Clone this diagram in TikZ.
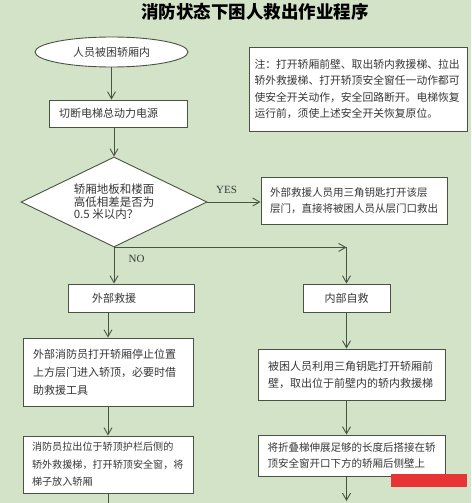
\documentclass[tikz,border=0pt]{standalone}
\usepackage{fontspec}
\setmainfont{Liberation Serif}
\newfontfamily\cjk{Noto Sans CJK SC}
\usepackage{tikz}
\usetikzlibrary{arrows.meta, shapes.geometric, calc}
\definecolor{notebg}{RGB}{211, 227, 200}
\definecolor{noteline}{RGB}{72, 84, 66}
\definecolor{notetext}{RGB}{55, 55, 55}
\definecolor{notered}{RGB}{232, 52, 52}

\begin{document}
\begin{tikzpicture}[x=1pt, y=-1pt,
        procbox/.style={draw=noteline, fill=white, line width=0.9pt, align=left, text=notetext,
            font=\cjk\fontsize{11}{17}\selectfont, inner xsep=10pt, inner ysep=0pt},
        flow/.style={draw=noteline, line width=0.9pt, -{Straight Barb[length=7pt, width=8pt]}},
        lbl/.style={font=\fontsize{11}{13}\selectfont, text=notetext}]
            \fill[notebg] (0,0) rectangle (471,503);
            \useasboundingbox (0,0) rectangle (471,503);

            \node[text=black, font=\cjk\bfseries\fontsize{17.5}{20}\selectfont] (title) at (255,12) {消防状态下困人救出作业程序};

            \node[ellipse, draw=noteline, fill=white, line width=0.9pt, minimum width=153pt, minimum height=30pt,
                inner sep=0pt, text=notetext, font=\cjk\fontsize{11}{13}\selectfont] (start) at (111.5,52) {人员被困轿厢内};
            \node[procbox, text width=118pt, minimum height=27pt] (cut) at (118,113.5) {切断电梯总动力电源};
            \node[procbox, text width=207pt, inner xsep=5.5pt, minimum height=84pt, font=\cjk\fontsize{10.8}{16.5}\selectfont] (note) at (358,89)
                {注：打开轿厢前壁、取出轿内救援梯、拉出\\轿外救援梯、打开轿顶安全窗任一动作都可\\使安全开关动作，安全回路断开。电梯恢复\\运行前，须使上述安全开关恢复原位。};

            % Abfrage
            \node[diamond, draw=noteline, fill=white, line width=0.9pt, aspect=2.07, minimum width=186pt, minimum height=90pt,
                inner sep=0pt, align=left, text=notetext, font=\cjk\fontsize{11.5}{12.5}\selectfont] (check) at (114,202)
                {轿厢地板和楼面\\高低相差是否为\\0.5 米以内？};
            \node[procbox, text width=168pt, inner xsep=9pt, minimum height=47pt, font=\cjk\fontsize{10.5}{16}\selectfont] (direct) at (354,200.5)
                {外部救援人员用三角钥匙打开该层\\层门，直接将被困人员从层门口救出};

            \node[procbox, text width=78pt, inner xsep=24pt, minimum height=28pt] (outer) at (131,298) {外部救援};
            \node[procbox, text width=67pt, align=center, minimum height=28pt] (inner) at (346.5,298) {内部自救};

            \node[procbox, text width=150pt, minimum height=68pt, font=\cjk\fontsize{11}{18}\selectfont] (roof) at (108,372)
                {外部消防员打开轿厢停止位置\\上方层门进入轿顶，必要时借\\助救援工具};
            \node[procbox, text width=167pt, minimum height=51pt] (front) at (351.5,374.5)
                {被困人员利用三角钥匙打开轿厢前\\壁，取出位于前壁内的轿内救援梯};
            \node[procbox, text width=152pt, inner xsep=9pt, minimum height=57pt, font=\cjk\fontsize{10.1}{17.5}\selectfont] (outladder) at (108,464.5)
                {消防员拉出位于轿顶护栏后侧的\\轿外救援梯，打开轿顶安全窗，将\\梯子放入轿厢};
            \node[procbox, text width=168pt, inner xsep=9.5pt, minimum height=41pt, font=\cjk\fontsize{10.5}{16}\selectfont] (fold) at (351.5,455.5)
                {将折叠梯伸展足够的长度后搭接在轿\\顶安全窗开口下方的轿厢后侧壁上};

            % Verbindungen
            \draw[flow] (start.south) -- (start.south |- cut.north);
            \draw[flow] (check.north |- cut.south) -- (check.north);
            \draw[flow] (check.east) -- (direct.west |- check.east);
            \node[lbl] (yes) at (226.5,190) {YES};
            \coordinate (split) at (inner.north |- check.south);
            \draw[flow] (check.south) -- (split);
            \draw[flow] (split) -- (inner.north);
            \draw[flow] (check.south) -- (check.south |- outer.north);
            \node[lbl] (no) at (136.5,259) {NO};
            \draw[flow] (roof.north |- outer.south) -- (roof.north);
            \draw[flow] (roof.south) -- (outladder.north);
            \coordinate (endL) at (108,503);
            \draw[noteline, line width=0.9pt] (outladder.south) -- (endL);

            \draw[flow] (inner.south) -- (inner.south |- front.north);
            \draw[flow] (inner.south |- front.south) -- (inner.south |- fold.north);
            \coordinate (endR) at (inner.south |- 0,501);
            \draw[flow] (inner.south |- fold.south) -- (endR);

            \fill[notered] (391,474) rectangle (467,487);
        \end{tikzpicture}
\end{document}
